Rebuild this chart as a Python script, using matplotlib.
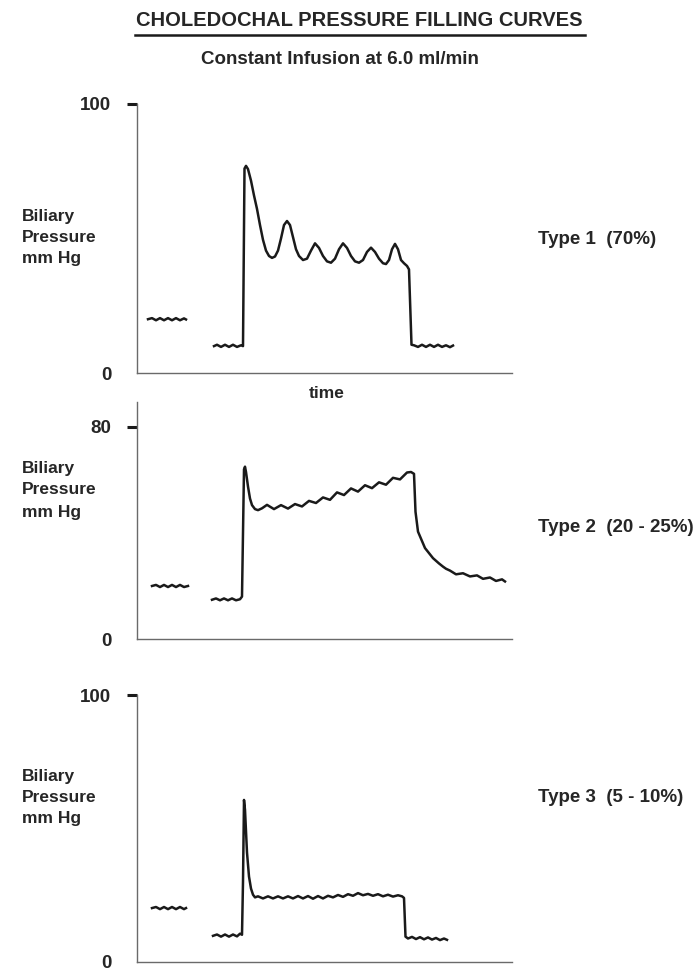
import matplotlib

matplotlib.use("Agg")
import matplotlib.pyplot as plt
from matplotlib.lines import Line2D

plt.rcParams["font.family"] = ["Liberation Sans", "DejaVu Sans"]

# ---- data (time in arbitrary units, pressure in mm Hg) ----------------------
# Type 1: resting trace before infusion
t1_rest = [11, 15, 19, 23, 27, 31, 35, 39, 43, 47, 49]
p1_rest = [20.0, 20.4, 19.6, 20.4, 19.6, 20.4, 19.6, 20.4, 19.6, 20.3, 19.9]
# Type 1: infusion trace
t1 = [77, 80, 84, 88, 92, 96, 100, 104, 106, 107.5, 109, 111, 114, 117, 120,
      123, 126, 129, 132, 135, 138, 141, 144, 147, 150, 153, 156, 159, 162,
      166, 170, 174, 178, 182, 186, 190, 194, 198, 202, 206, 210, 214, 218,
      222, 226, 230, 234, 238, 242, 246, 249, 252, 255, 258, 261, 264, 267,
      270, 272, 274.5, 277, 281, 285, 289, 293, 297, 301, 305, 309, 313, 316]
p1 = [10.0, 10.5, 9.7, 10.5, 9.7, 10.5, 9.7, 10.3, 10.0, 76.0, 77.0, 75.8,
      71.5, 66.0, 61.0, 55.0, 49.5, 45.5, 43.5, 42.8, 43.3, 45.5, 50.0, 55.0,
      56.5, 55.0, 50.5, 46.0, 43.5, 42.0, 42.5, 45.5, 48.2, 46.5, 43.5, 41.5,
      41.0, 42.5, 46.0, 48.2, 46.5, 43.5, 41.5, 41.0, 42.0, 45.0, 46.6, 45.0,
      42.5, 40.8, 40.5, 42.0, 46.0, 48.0, 46.0, 42.0, 40.8, 39.8, 38.5, 10.5,
      10.3, 9.7, 10.5, 9.7, 10.5, 9.7, 10.5, 9.7, 10.3, 9.6, 10.2]

# Type 2
t2_rest = [15, 19, 23, 27, 31, 35, 39, 43, 47, 51]
p2_rest = [20.0, 20.4, 19.6, 20.4, 19.6, 20.4, 19.6, 20.4, 19.6, 20.0]
t2 = [75, 79, 83, 87, 91, 95, 99, 103, 105, 107, 108, 109, 111, 113, 115,
      118, 121, 125, 130, 137, 144, 151, 158, 165, 172, 179, 186, 193, 200,
      207, 214, 221, 228, 235, 242, 249, 256, 263, 270, 274, 277, 278.5, 281,
      288, 296, 302, 306, 309, 313, 319, 326, 333, 340, 346, 353, 359, 365,
      368]
p2 = [14.8, 15.3, 14.6, 15.3, 14.6, 15.3, 14.6, 15.0, 16.0, 64.0, 65.0, 63.0,
      57.5, 53.0, 50.5, 49.0, 48.6, 49.3, 50.6, 49.0, 50.5, 49.2, 50.9, 50.0,
      52.1, 51.3, 53.4, 52.5, 55.3, 54.3, 56.8, 55.6, 58.0, 56.9, 59.1, 58.2,
      60.8, 60.2, 62.8, 63.0, 62.3, 48.0, 40.5, 34.3, 30.5, 28.5, 27.3, 26.5,
      25.8, 24.4, 24.8, 23.6, 24.0, 22.7, 23.2, 21.9, 22.5, 21.7]

# Type 3
t3_rest = [15, 19, 23, 27, 31, 35, 39, 43, 47, 49]
p3_rest = [20.2, 20.6, 19.8, 20.6, 19.8, 20.6, 19.8, 20.6, 19.8, 20.2]
t3 = [76, 80, 84, 88, 92, 96, 100, 103, 105, 106, 107, 108, 110, 112, 114,
      116, 118, 121, 126, 131, 136, 141, 146, 151, 156, 161, 166, 171, 176,
      181, 186, 191, 196, 201, 206, 211, 216, 221, 226, 231, 236, 241, 246,
      251, 256, 261, 265, 267, 268.5, 271, 275, 279, 283, 287, 291, 295, 299,
      303, 307, 310]
p3 = [9.8, 10.3, 9.5, 10.3, 9.5, 10.3, 9.6, 10.6, 10.2, 30.0, 60.7, 57.0,
      41.0, 32.0, 27.5, 25.2, 24.2, 24.6, 23.8, 24.6, 23.8, 24.6, 23.8, 24.6,
      23.8, 24.7, 23.8, 24.7, 23.7, 24.7, 23.8, 24.8, 24.2, 25.1, 24.4, 25.4,
      24.8, 25.8, 25.0, 25.5, 24.8, 25.4, 24.6, 25.2, 24.5, 25.0, 24.6, 24.0,
      9.5, 8.8, 9.4, 8.6, 9.3, 8.5, 9.2, 8.4, 9.0, 8.2, 8.8, 8.3]

panels = [
    (t1_rest, p1_rest, t1, p1, 100, 100, "Type 1  (70%)"),
    (t2_rest, p2_rest, t2, p2, 80, 89.4, "Type 2  (20 - 25%)"),
    (t3_rest, p3_rest, t3, p3, 100, 100, "Type 3  (5 - 10%)"),
]

# ---- layout in pixels (figure is 700 x 973) ---------------------------------
W, H = 700, 973
# (top pixel, bottom pixel) of each plot frame
frames = [(104, 373), (402, 639), (695, 962)]
label_rows = [(217, 238, 259), (469, 490, 512), (776, 797, 819)]
type_y = [240, 527, 797]
ax_left, ax_right = 137, 512
XMAX = 375

fig = plt.figure(figsize=(7.0, 9.73), dpi=100)

ink = "#1a1a1a"
txt_col = "#262626"
axis_col = "#6a6a6a"
txt_kw = dict(fontsize=12.5, fontweight="bold", color=txt_col)

for (tr, pr, t, p, top_tick, ytop, type_label), (ftop, fbot), rows, ty in zip(
    panels, frames, label_rows, type_y
):
    ax = fig.add_axes(
        [ax_left / W, 1 - fbot / H, (ax_right - ax_left) / W, (fbot - ftop) / H]
    )
    ax.plot(tr, pr, color=ink, lw=1.8, solid_joinstyle="round")
    ax.plot(t, p, color=ink, lw=1.8, solid_joinstyle="round")
    ax.set_xlim(0, XMAX)
    ax.set_ylim(0, ytop)
    for s in ("top", "right"):
        ax.spines[s].set_visible(False)
    for s in ("left", "bottom"):
        ax.spines[s].set_color(axis_col)
        ax.spines[s].set_linewidth(1.0)
    ax.set_xticks([])
    ax.set_yticks([0, top_tick])
    ax.set_yticklabels(["0", str(top_tick)], fontweight="bold")
    ax.tick_params(axis="y", length=7.5, width=2.2, color=ink, pad=11,
                   labelsize=13.5, labelcolor=txt_col)
    ax.yaxis.get_major_ticks()[0].tick1line.set_visible(False)
    ax.patch.set_visible(False)

    for yy, txt in zip(rows, ["Biliary", "Pressure", "mm Hg"]):
        fig.text(22 / W, 1 - yy / H, txt, ha="left", va="center", **txt_kw)
    fig.text(538 / W, 1 - ty / H, type_label, ha="left", va="center",
             fontsize=13.5, fontweight="bold", color=txt_col)

fig.text(327 / W, 1 - 394 / H, "time", ha="center", va="center", **txt_kw)

fig.text(359 / W, 1 - 20 / H, "CHOLEDOCHAL PRESSURE FILLING CURVES",
         ha="center", va="center", fontsize=14.5, fontweight="bold",
         color=txt_col)
fig.add_artist(Line2D([135 / W, 585 / W], [1 - 35 / H, 1 - 35 / H],
                      color=ink, lw=1.8))
fig.text(340 / W, 1 - 60 / H, "Constant Infusion at 6.0 ml/min",
         ha="center", va="center", fontsize=13.5, fontweight="bold",
         color=txt_col)

fig.savefig("out.png", dpi=100, facecolor="white")
